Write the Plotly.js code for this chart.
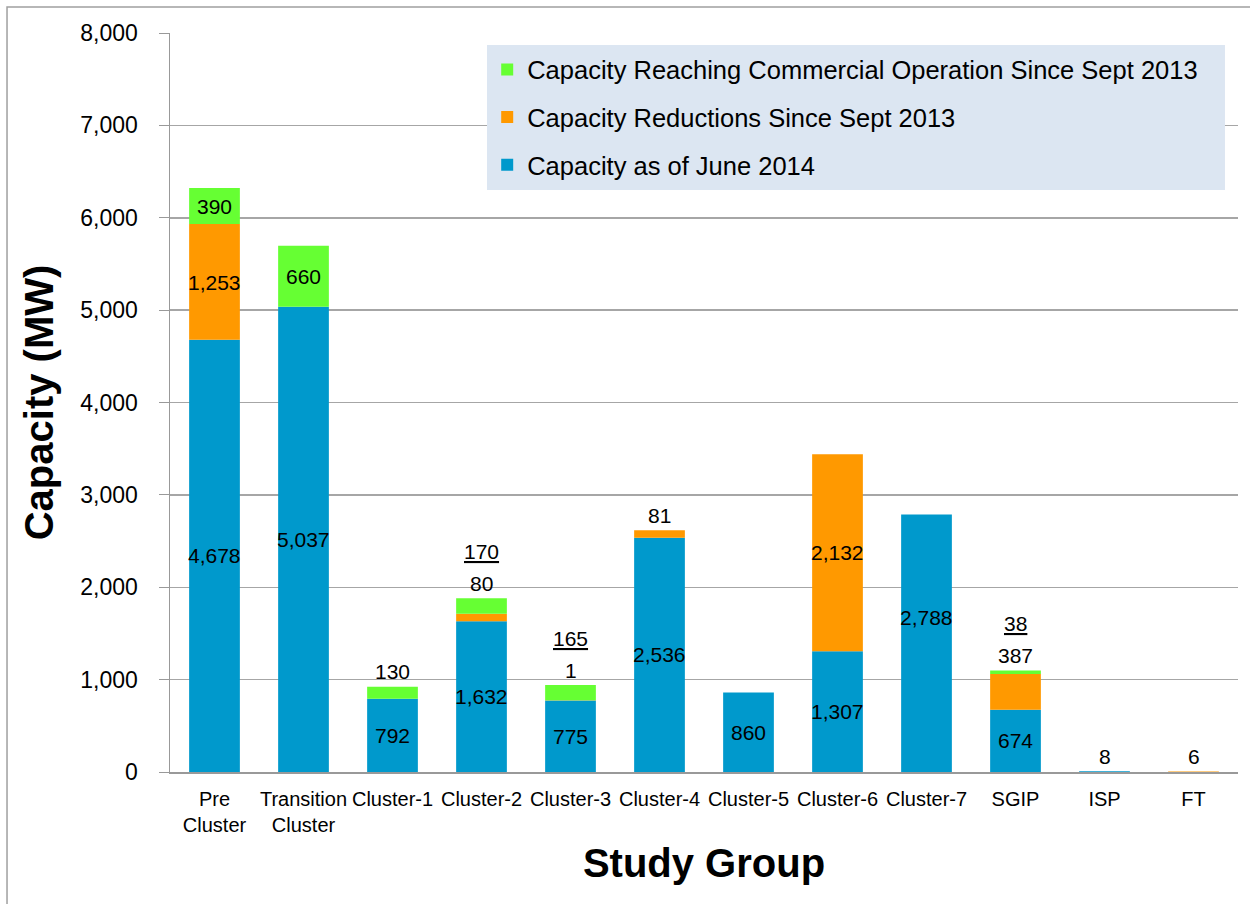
<!DOCTYPE html>
<html>
<head>
<meta charset="utf-8">
<script src="https://cdn.plot.ly/plotly-3.0.1.min.js"></script>
<style>html,body{margin:0;padding:0;background:#fff;}#chart{width:1250px;height:904px;}</style>
</head>
<body>
<div id="chart"></div>
<script>
// ---- data ----
const categories = ['Pre<br>Cluster', 'Transition<br>Cluster', 'Cluster-1', 'Cluster-2', 'Cluster-3', 'Cluster-4',
  'Cluster-5', 'Cluster-6', 'Cluster-7', 'SGIP', 'ISP', 'FT'];
const capacityJune2014 = [4678, 5037, 792, 1632, 775, 2536, 860, 1307, 2788, 674, 8, 0];
const capacityReductions = [1253, 0, 0, 80, 1, 81, 0, 2132, -15, 387, 0, 6];
const capacityCommercial = [390, 660, 130, 170, 165, 0, 0, 0, 0, 38, 0, 0];

const seriesNames = ['Capacity as of June 2014', 'Capacity Reductions Since Sept 2013',
  'Capacity Reaching Commercial Operation Since Sept 2013'];

// label placement: 'mid' = centre of segment, 'top' = just above bar, 'top2' = higher above bar (underlined), '' = none
const blueLabelPos = ['mid', 'mid', 'mid', 'mid', 'mid', 'mid', 'mid', 'mid', 'midhi', 'mid', 'top', ''];
const orangeLabelPos = ['mid', '', '', 'top', 'top', 'top', '', 'mid', '', 'top', '', 'top'];
const greenLabelPos = ['mid', 'mid', 'top', 'top2', 'top2', '', '', '', '', 'top2', '', ''];

const colors = ['#0099CC', '#FF9900', '#66FF33'];
const regular = '"Liberation Sans", Arial, sans-serif';

const seriesValues = [capacityJune2014, capacityReductions, capacityCommercial];
const traces = seriesValues.map((vals, i) => ({
  type: 'bar', x: categories, y: vals, name: seriesNames[i],
  marker: {color: colors[i], line: {width: 0}}, legendgroup: 'g' + i,
  legendrank: 1000 - i * 100,
  hoverinfo: 'x+y+name'
}));

const fmt = v => v.toLocaleString('en-US');
const annotations = [];
const positions = [blueLabelPos, orangeLabelPos, greenLabelPos];
categories.forEach((c, j) => {
  const total = capacityJune2014[j] + Math.max(capacityReductions[j], 0) + capacityCommercial[j];
  let base = 0;
  seriesValues.forEach((vals, i) => {
    const v = vals[j];
    const pos = positions[i][j];
    const segStart = base;
    if (v > 0) base += v;
    if (!pos) return;
    let y, yshift = 0, text = fmt(v);
    if (pos === 'mid') { y = segStart + v / 2; }
    else if (pos === 'midhi') { y = segStart + v / 2; yshift = 26; }
    else if (pos === 'top') { y = total; yshift = 15; }
    else if (pos === 'top2') { y = total; yshift = 47; text = '<u>' + text + '</u>'; }
    annotations.push({x: c, y: y, xref: 'x', yref: 'y', text: text, showarrow: false,
      yanchor: 'middle', yshift: yshift, font: {family: regular, size: 21, color: '#000'}});
  });
});

const layout = {
  width: 1250, height: 904,
  margin: {l: 170, r: 12, t: 33, b: 132},
  paper_bgcolor: '#fff', plot_bgcolor: '#fff',
  barmode: 'relative', bargap: 0.43,
  font: {family: regular, color: '#000'},
  xaxis: {
    type: 'category', showline: true, linecolor: '#999', linewidth: 2, ticks: '',
    ticklabelstandoff: 8,
    tickfont: {family: regular, size: 20, color: '#000'},
    title: {text: '<b>Study Group</b>', font: {family: regular, size: 40, color: '#000'}, standoff: 14}
  },
  yaxis: {
    range: [0, 8000], dtick: 1000, tickformat: ',d', showgrid: true, gridcolor: '#A6A6A6', gridwidth: 1.5,
    zeroline: false, showline: true, linecolor: '#999', linewidth: 1.5, ticks: 'outside', ticklen: 10,
    tickcolor: '#999', ticklabelstandoff: 16,
    tickfont: {family: regular, size: 23, color: '#000'},
    title: {text: '<b>Capacity (MW)</b>', font: {family: regular, size: 40, color: '#000'}, standoff: 14}
  },
  legend: {
    x: 0.297, y: 0.982, xanchor: 'left', yanchor: 'top', traceorder: 'grouped',
    bgcolor: 'rgba(0,0,0,0)', borderwidth: 0, tracegroupgap: 11.5,
    font: {family: regular, size: 25.5, color: '#000'}
  },
  shapes: [
    {type: 'rect', xref: 'paper', yref: 'paper', x0: 0.2968, x1: 0.9878, y0: 0.7876, y1: 0.9838,
      fillcolor: '#DCE6F2', line: {width: 0}, layer: 'above'},
    {type: 'rect', xref: 'paper', yref: 'paper', x0: -0.1526, x1: 1.03, y0: -0.19, y1: 1.0352,
      fillcolor: 'rgba(0,0,0,0)', line: {color: '#A0A0A0', width: 1.5}, layer: 'below'}
  ],
  annotations: annotations,
  showlegend: true
};

Plotly.newPlot('chart', traces, layout, {displayModeBar: false, staticPlot: true});
</script>
</body>
</html>
